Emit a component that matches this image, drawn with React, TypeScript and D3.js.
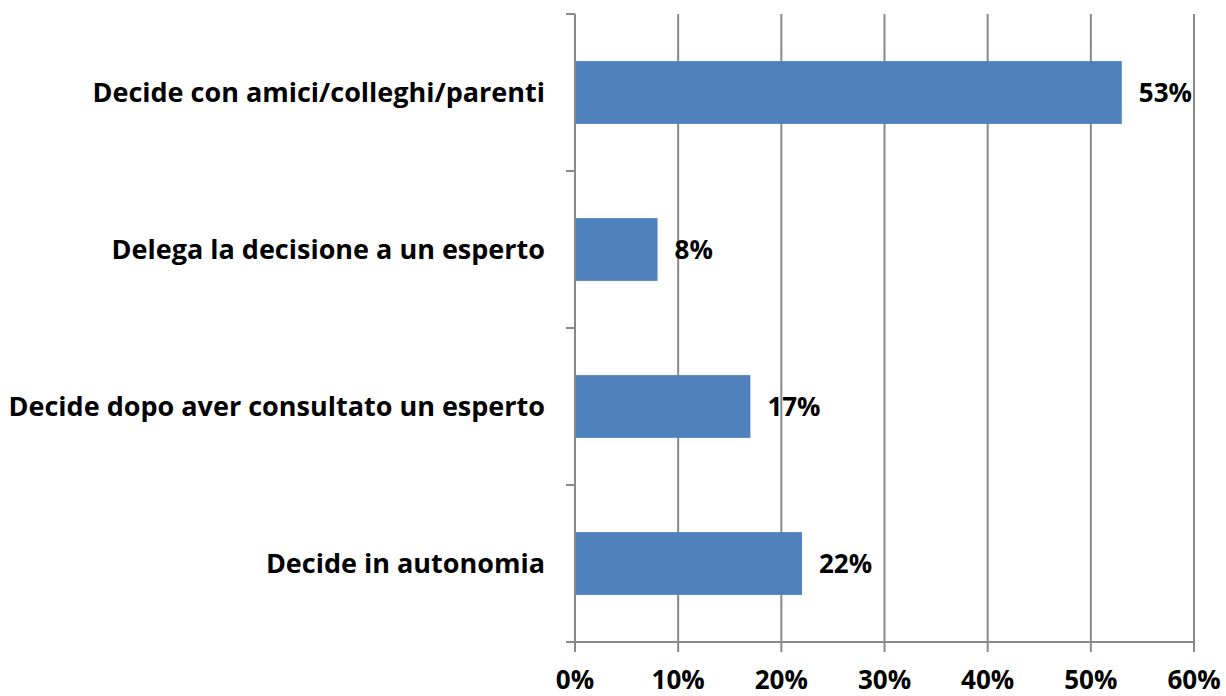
import React, { useEffect, useRef } from 'react';
import * as d3 from 'd3';

const categories = [
  'Decide con amici/colleghi/parenti',
  'Delega la decisione a un esperto',
  'Decide dopo aver consultato un esperto',
  'Decide in autonomia',
];
const values = [53, 8, 17, 22];
const xTicks = [0, 10, 20, 30, 40, 50, 60];

const W = 1226;
const H = 696;
const FONT = '"Open Sans", Lato, sans-serif';

export default function App() {
  const svgRef = useRef<SVGSVGElement>(null);

  useEffect(() => {
    if (!svgRef.current) return;
    const svg = d3.select(svgRef.current);
    svg.selectAll('*').remove();

    const left = 575, right = 1194, top = 14, bottom = 642;
    const x = d3.scaleLinear().domain([0, 60]).range([left, right]);
    const y = d3.scaleBand().domain(categories).range([top, bottom]).paddingInner(0.6).paddingOuter(0.3);
    const bandStep = (bottom - top) / categories.length;

    const grid = svg.append('g');
    // vertical gridlines
    grid.selectAll('line.g')
      .data(xTicks.slice(1))
      .join('line')
      .attr('x1', d => x(d)).attr('x2', d => x(d))
      .attr('y1', top).attr('y2', bottom)
      .attr('stroke', '#898989').attr('stroke-width', 2);

    // bars
    svg.append('g').selectAll('rect')
      .data(values)
      .join('rect')
      .attr('x', left)
      .attr('y', (_, i) => y(categories[i])!)
      .attr('width', d => x(d) - left)
      .attr('height', y.bandwidth())
      .attr('fill', '#4f81bd');

    // axes
    const ax = svg.append('g').attr('stroke', '#898989').attr('stroke-width', 2);
    ax.append('line').attr('x1', left).attr('x2', left).attr('y1', top).attr('y2', bottom + 10);
    ax.append('line').attr('x1', left - 9).attr('x2', right).attr('y1', bottom).attr('y2', bottom);
    ax.selectAll('line.yt')
      .data(d3.range(categories.length + 1))
      .join('line')
      .attr('x1', left - 9).attr('x2', left)
      .attr('y1', d => top + d * bandStep).attr('y2', d => top + d * bandStep);
    ax.selectAll('line.xt')
      .data(xTicks)
      .join('line')
      .attr('x1', d => x(d)).attr('x2', d => x(d))
      .attr('y1', bottom).attr('y2', bottom + 10);

    // x tick labels
    svg.append('g').selectAll('text')
      .data(xTicks)
      .join('text')
      .attr('x', d => x(d))
      .attr('y', 689)
      .attr('text-anchor', 'middle')
      .attr('font-family', FONT)
      .attr('font-weight', 'bold')
      .attr('font-size', 26)
      .attr('fill', '#000')
      .text(d => `${d}%`);

    // category labels
    svg.append('g').selectAll('text')
      .data(categories)
      .join('text')
      .attr('x', 545)
      .attr('y', d => y(d)! + y.bandwidth() / 2)
      .attr('dy', '0.35em')
      .attr('text-anchor', 'end')
      .attr('font-family', FONT)
      .attr('font-weight', 'bold')
      .attr('font-size', 27)
      .attr('fill', '#000')
      .text(d => d);

    // value labels
    svg.append('g').selectAll('text')
      .data(values)
      .join('text')
      .attr('x', d => x(d) + 17)
      .attr('y', (_, i) => y(categories[i])! + y.bandwidth() / 2)
      .attr('dy', '0.35em')
      .attr('font-family', FONT)
      .attr('font-weight', 'bold')
      .attr('font-size', 26)
      .attr('fill', '#000')
      .text(d => `${d}%`);
  }, []);

  return (
    <svg ref={svgRef} width={W} height={H} style={{ position: 'absolute', left: 0, top: 0, background: '#fff' }} />
  );
}
